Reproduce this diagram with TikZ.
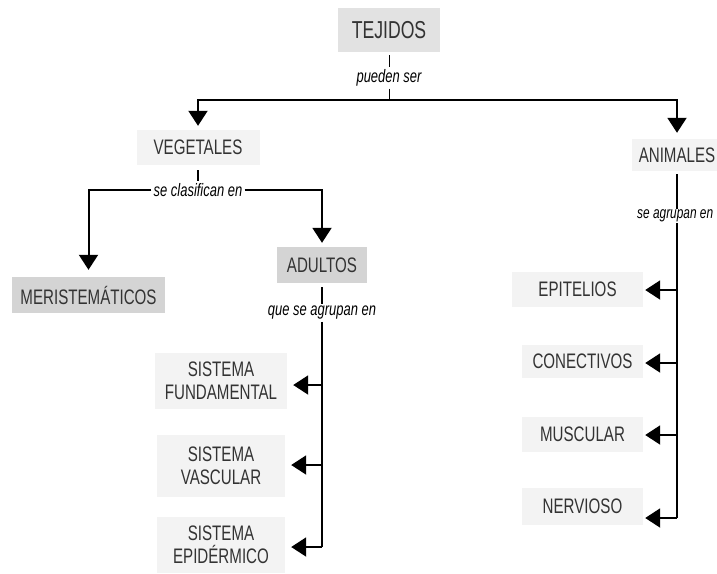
\documentclass[tikz,border=0pt]{standalone}
\usepackage{fontspec}
\setmainfont{Liberation Sans}
\newfontfamily\cf[FakeStretch=0.72]{Liberation Sans}
\newfontfamily\cfi[FakeStretch=0.72]{Liberation Sans Italic}
\usetikzlibrary{arrows.meta}
\definecolor{gA}{HTML}{E2E2E2}
\definecolor{gB}{HTML}{D4D4D4}
\definecolor{gC}{HTML}{F3F3F3}
\definecolor{txt}{HTML}{333333}
\tikzset{
  cbox/.style={inner sep=0pt, text=txt, align=center, font=\cf\fontsize{21}{23}\selectfont},
  lab/.style={inner sep=2pt, fill=white, text=black, font=\cfi\fontsize{18}{20}\selectfont},
  thinln/.style={line width=1pt},
  thickln/.style={line width=2pt},
  arr/.style={line width=2pt, -{Triangle[length=15pt,width=19pt]}},
}
\begin{document}
\begin{tikzpicture}[x=1pt,y=-1pt]
\useasboundingbox (0,0) rectangle (717,573);
% nodes
\node[cbox, fill=gA, minimum width=102pt, minimum height=44pt, font=\cf\fontsize{24.5}{26}\selectfont] (tej) at (389,30) {TEJIDOS};
\node[cbox, fill=gC, minimum width=123pt, minimum height=35pt] (veg) at (198,147.5) {VEGETALES};
\node[cbox, fill=gC, minimum width=90pt, minimum height=32pt] (ani) at (677,155) {ANIMALES};
\node[cbox, fill=gB, minimum width=153pt, minimum height=36pt] (meri) at (88.5,295) {MERISTEMÁTICOS};
\node[cbox, fill=gB, minimum width=90pt, minimum height=36pt] (adu) at (322,265) {ADULTOS};
\node[cbox, fill=gC, minimum width=132pt, minimum height=56pt] (sf) at (221,381) {SISTEMA\\FUNDAMENTAL};
\node[cbox, fill=gC, minimum width=128pt, minimum height=62pt] (sv) at (221,466) {SISTEMA\\VASCULAR};
\node[cbox, fill=gC, minimum width=128pt, minimum height=56pt] (se) at (221,545) {SISTEMA\\EPIDÉRMICO};
\node[cbox, fill=gC, minimum width=131pt, minimum height=35pt] (epi) at (577.5,289.5) {EPITELIOS};
\node[cbox, fill=gC, minimum width=121pt, minimum height=33pt] (con) at (582.5,361.5) {CONECTIVOS};
\node[cbox, fill=gC, minimum width=121pt, minimum height=35pt] (mus) at (582.5,434.5) {MUSCULAR};
\node[cbox, fill=gC, minimum width=121pt, minimum height=37pt] (ner) at (582.5,506.5) {NERVIOSO};
% labels
\node[lab] (l1) at (389,78) {pueden ser};
\node[lab] (l2) at (198,190) {se clasifican en};
\node[lab] (l3) at (322,313) {que se agrupan en};
\node[lab, anchor=west, inner sep=1pt, font=\cfi\fontsize{16.5}{18}\selectfont] (l4) at (636,216) {se agrupan en};
% junctions
\coordinate (j1) at (389,100);
\coordinate (b1) at (322,385);
\coordinate (b2) at (322,465);
\coordinate (b3) at (322,547);
\coordinate (c1) at (677,290);
\coordinate (c2) at (677,363);
\coordinate (c3) at (677,435);
\coordinate (c4) at (677,518);
% connectors
\draw[thinln] ([yshift=-3pt]tej.south) -- (l1.north);
\draw[thinln] (l1.south) -- (j1);
\draw[arr, shorten >=4pt] (j1) -| (veg.north);
\draw[arr, shorten >=6pt] (j1) -| (ani.north);
\draw[thickln] ([yshift=-5pt]veg.south) -- (l2.north);
\draw[arr, shorten >=7pt] (l2.west) -| (meri.north);
\draw[arr, shorten >=4pt] (l2.east) -| (adu.north);
\draw[thickln] ([yshift=-4pt]adu.south) -- (l3.north);
\draw[thickln] (l3.south) -- (b3);
\draw[arr, shorten >=6pt] (b1) -- (b1 -| sf.east);
\draw[arr, shorten >=6pt] (b2) -- (b2 -| sv.east);
\draw[arr, shorten >=6pt] (b3) -- (b3 -| se.east);
\draw[thickln] ([yshift=-3pt]ani.south) -- (ani.south |- l4.north);
\draw[thickln] (ani.south |- l4.south) -- (c4);
\draw[arr, shorten >=2pt] (c1) -- (c1 -| epi.east);
\draw[arr, shorten >=2pt] (c2) -- (c2 -| con.east);
\draw[arr, shorten >=2pt] (c3) -- (c3 -| mus.east);
\draw[arr, shorten >=2pt] (c4) -- (c4 -| ner.east);
\end{tikzpicture}
\end{document}
